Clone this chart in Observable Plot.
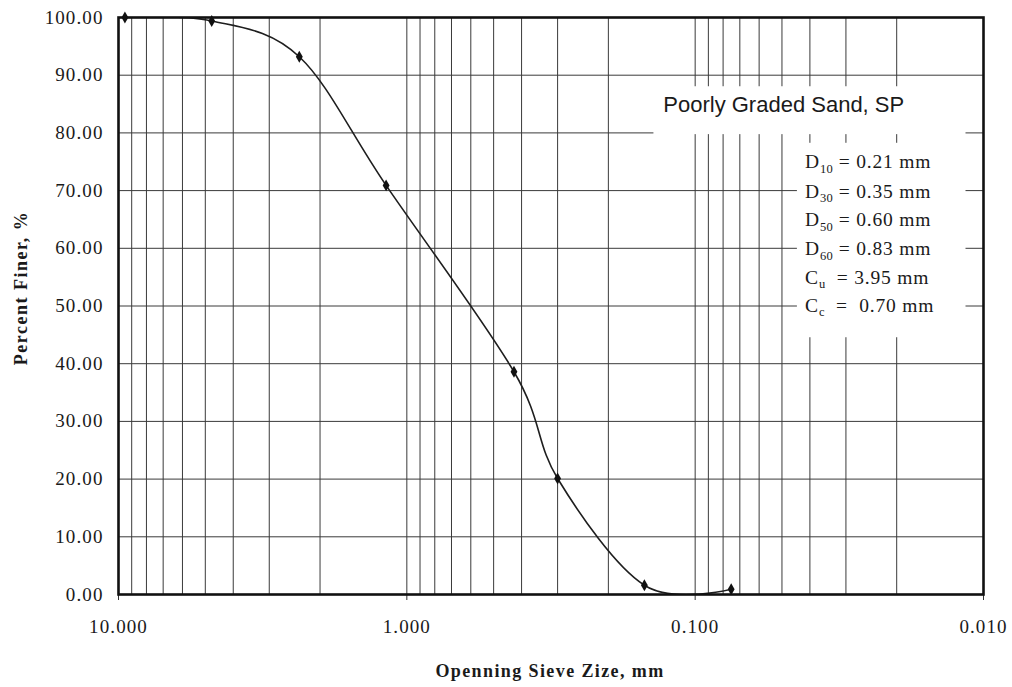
<!DOCTYPE html>
<html>
<head>
<meta charset="utf-8">
<script src="https://cdn.jsdelivr.net/npm/d3@7"></script>
<script src="https://cdn.jsdelivr.net/npm/@observablehq/plot@0.6"></script>
<style>
  html, body { margin: 0; padding: 0; background: #fff; }
  #chart svg { display: block; }
  #chart svg g[aria-label="x-axis tick label"] text,
  #chart svg g[aria-label="y-axis tick label"] text { letter-spacing: 1.1px; }
</style>
</head>
<body>
<div id="chart"></div>
<script>
// Sieve analysis results: opening size (mm) and cumulative percent finer
const sieveSize = [9.5, 4.75, 2.36, 1.18, 0.425, 0.30, 0.15, 0.075];
const percentFiner = [100, 99.4, 93.2, 70.9, 38.6, 20.1, 1.6, 0.9];

// Axis ticks
const xMajorTicks = [10, 1, 0.1, 0.01];
const yTicks = [0, 10, 20, 30, 40, 50, 60, 70, 80, 90, 100];
// Log grid: 1..9 within each decade from 0.01 to 10
const xGrid = [0.01, 0.1, 1].flatMap(d => [1, 2, 3, 4, 5, 6, 7, 8, 9].map(k => +(d * k).toPrecision(3))).concat([10]);

// Axis titles
const xTitle = "Openning Sieve Zize, mm";
const yTitle = "Percent Finer, %";

// Soil classification summary
const soilTitle = "Poorly Graded Sand, SP";
const summarySymbol = ["D", "D", "D", "D", "C", "C"];
const summarySub = ["10", "30", "50", "60", "u", "c"];
const summaryRest = [" = 0.21 mm", " = 0.35 mm", " = 0.60 mm", " = 0.83 mm", "  = 3.95 mm", "  =  0.70 mm"];

const data = sieveSize.map((s, i) => ({size: s, finer: percentFiner[i]}));

const serif = "'Liberation Serif', 'Times New Roman', serif";
const sans = "'Liberation Sans', Arial, sans-serif";
const ink = "#1a1a1a";

const chart = Plot.plot({
  width: 1012,
  height: 687,
  marginLeft: 118,
  marginRight: 29,
  marginTop: 17,
  marginBottom: 93,
  style: {fontFamily: serif, fontSize: "19px", color: ink, background: "#fff"},
  x: {type: "log", domain: [10, 0.01]},
  y: {domain: [0, 100]},
  marks: [
    Plot.ruleX(xGrid, {stroke: "#3a3a3a", strokeWidth: 1}),
    Plot.ruleY(yTicks, {stroke: "#3a3a3a", strokeWidth: 1}),
    // white label panels over the grid
    Plot.rect([{x1: 0.139, x2: 0.0115, y1: 79.7, y2: 88.0}], {x1: "x1", x2: "x2", y1: "y1", y2: "y2", fill: "#fff"}),
    Plot.rect([{x1: 0.0442, x2: 0.0115, y1: 44.5, y2: 78.2}], {x1: "x1", x2: "x2", y1: "y1", y2: "y2", fill: "#fff"}),
    Plot.line(data, {x: "size", y: "finer", curve: "cardinal", stroke: "#1e1e1e", strokeWidth: 1.6, clip: true}),
    Plot.dot(data, {x: "size", y: "finer", symbol: "diamond", r: 3.6, fill: "#111", stroke: "none"}),
    Plot.axisX({
      ticks: xMajorTicks, tickFormat: d => d.toFixed(3), tickSize: 6, tickPadding: 19,
      fontSize: 19, label: null, stroke: "#333"
    }),
    Plot.axisY({
      ticks: yTicks, tickFormat: d => d.toFixed(2), tickSize: 0, tickPadding: 15,
      fontSize: 19, label: null
    }),
    Plot.text([soilTitle], {
      x: () => 0.0493, y: () => 83.6, text: d => d, textAnchor: "middle", lineAnchor: "bottom",
      fontFamily: sans, fontSize: 22, fill: ink
    }),
    Plot.frame({stroke: "#111", strokeWidth: 2.6})
  ]
});

const xs = chart.scale("x"), ys = chart.scale("y");
const svg = d3.select(chart);

// Axis titles (bold, letter-spaced)
svg.append("text")
  .attr("transform", "translate(27,288) rotate(-90)")
  .attr("text-anchor", "middle")
  .attr("font-family", serif).attr("font-weight", "bold").attr("font-size", 18)
  .attr("letter-spacing", 1.5).attr("fill", ink)
  .text(yTitle);
svg.append("text")
  .attr("x", 550).attr("y", 677)
  .attr("text-anchor", "middle")
  .attr("font-family", serif).attr("font-weight", "bold").attr("font-size", 18)
  .attr("letter-spacing", 1.4).attr("fill", ink)
  .text(xTitle);

// Summary lines with subscripted symbols, placed through the chart's scales
const summaryX = 0.0414;
const summaryY = [73.8, 68.7, 63.7, 58.7, 53.8, 48.9];
const g = svg.append("g")
  .attr("font-family", serif)
  .attr("font-size", 19.5)
  .attr("text-anchor", "start")
  .attr("letter-spacing", 0.8)
  .attr("fill", ink)
  .style("white-space", "pre");
summarySymbol.forEach((sym, i) => {
  const t = g.append("text")
    .attr("x", xs.apply(summaryX))
    .attr("y", ys.apply(summaryY[i]));
  t.append("tspan").attr("fill", ink).text(sym);
  t.append("tspan").attr("fill", ink).attr("font-size", 12.5).attr("dy", 4.5).attr("letter-spacing", 0.3).text(summarySub[i]);
  t.append("tspan").attr("fill", ink).attr("dy", -4.5).text(summaryRest[i]);
});

document.getElementById("chart").appendChild(chart);
</script>
</body>
</html>
